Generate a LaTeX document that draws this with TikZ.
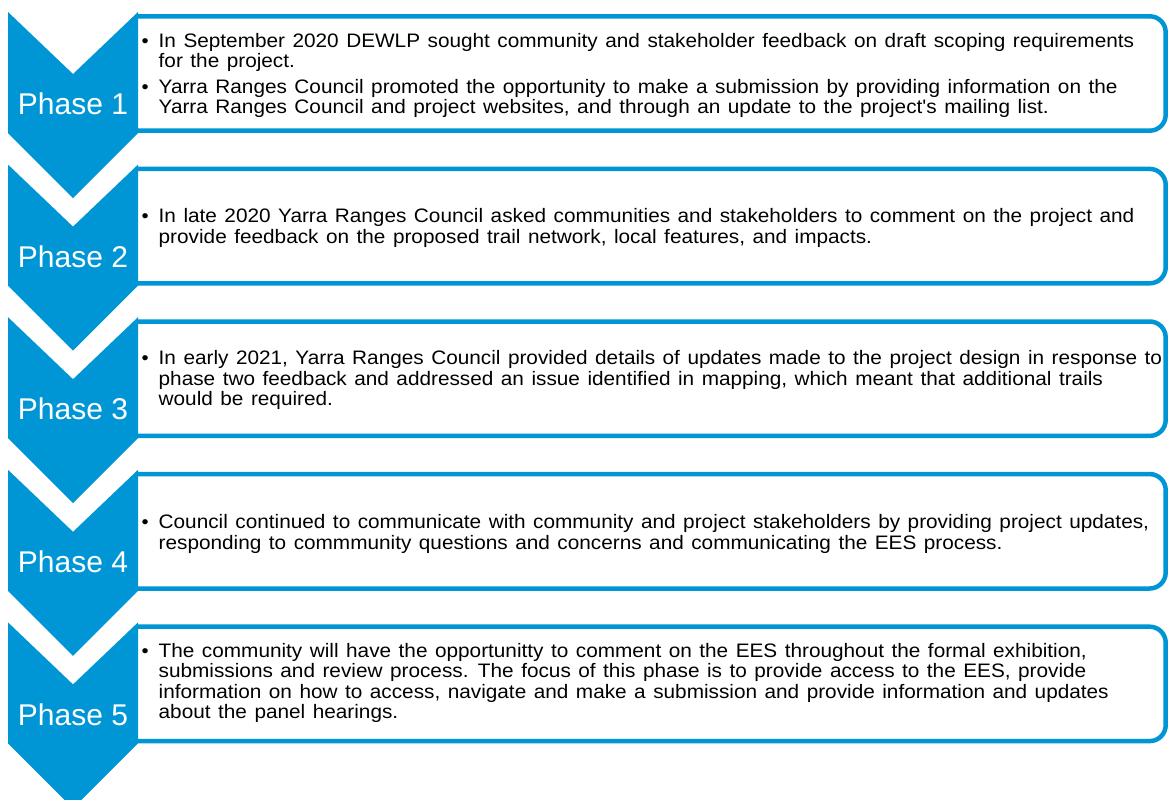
\documentclass[tikz,border=0pt]{standalone}
\usepackage{fontspec}
\setmainfont{Liberation Sans}
\newfontfamily\bodyfont[FakeStretch=1.065, WordSpace=1.3]{Liberation Sans}
\usepackage{array}
\definecolor{phblue}{RGB}{0,150,214}
\tikzset{
  chevron/.style={fill=phblue, draw=none},
  boxframe/.style={rectangle, inner sep=0pt, minimum width=1029.5pt, minimum height=114pt},
  boxline/.style={draw=phblue, line width=4.5pt, fill=white, rounded corners=16pt},
  phaselabel/.style={text=white, font=\fontsize{30}{32}\selectfont, inner sep=0pt},
  bodytext/.style={anchor=west, inner sep=0pt, font=\bodyfont\fontsize{19.5}{20.2}\selectfont, text=black}
}
\newcommand{\bul}{\raisebox{0.3pt}{\fontsize{19}{19}\selectfont •}}
\begin{document}
\begin{tikzpicture}[x=1pt,y=-1pt]
\useasboundingbox (0,0) rectangle (1168,800);
\clip (0,0) rectangle (1168,800);
\foreach \k in {0,...,4}{
  \pgfmathsetmacro{\T}{12+152.6*\k}
  \pgfmathsetmacro{\C}{73.5+152.6*\k}
  \node[boxframe] (box\k) at (650.75,\C) {};
  \draw[boxline] (box\k.north west) -- (box\k.north east) -- (box\k.south east) -- (box\k.south west);
  \fill[chevron] (8,\T) -- (73,\T+62) -- (138,\T) -- (138,\T+121) -- (73,\T+186) -- (8,\T+121) -- cycle;
  \pgfmathtruncatemacro{\n}{\k+1}
  \node[phaselabel] (ph\k) at (73,\T+92) {Phase \n};
}
\node[bodytext] (t0) at (141.5,76.5) {\begin{tabular}{@{}p{12.5pt}@{\hspace{4.5pt}}l@{}}
\bul & In September 2020 DEWLP sought community and stakeholder feedback on draft scoping requirements\\
 & for the project.\\[5.5pt]
\bul & Yarra Ranges Council promoted the opportunity to make a submission by providing information on the\\
 & Yarra Ranges Council and project websites, and through an update to the project's mailing list.
\end{tabular}};
\node[bodytext] (t1) at (141.5,229) {\begin{tabular}{@{}p{12.5pt}@{\hspace{4.5pt}}l@{}}
\bul & In late 2020 Yarra Ranges Council asked communities and stakeholders to comment on the project and\\
 & provide feedback on the proposed trail network, local features, and impacts.
\end{tabular}};
\node[bodytext] (t2) at (141.5,381) {\begin{tabular}{@{}p{12.5pt}@{\hspace{4.5pt}}l@{}}
\bul & In early 2021, Yarra Ranges Council provided details of updates made to the project design in response to\\
 & phase two feedback and addressed an issue identified in mapping, which meant that additional trails\\
 & would be required.
\end{tabular}};
\node[bodytext] (t3) at (141.5,535) {\begin{tabular}{@{}p{12.5pt}@{\hspace{4.5pt}}l@{}}
\bul & Council continued to communicate with community and project stakeholders by providing project updates,\\
 & responding to commmunity questions and concerns and communicating the EES process.
\end{tabular}};
\node[bodytext] (t4) at (141.5,684) {\begin{tabular}{@{}p{12.5pt}@{\hspace{4.5pt}}l@{}}
\bul & The community will have the opportunitty to comment on the EES throughout the formal exhibition,\\
 & submissions and review process. The focus of this phase is to provide access to the EES, provide\\
 & information on how to access, navigate and make a submission and provide information and updates\\
 & about the panel hearings.
\end{tabular}};
\end{tikzpicture}
\end{document}
